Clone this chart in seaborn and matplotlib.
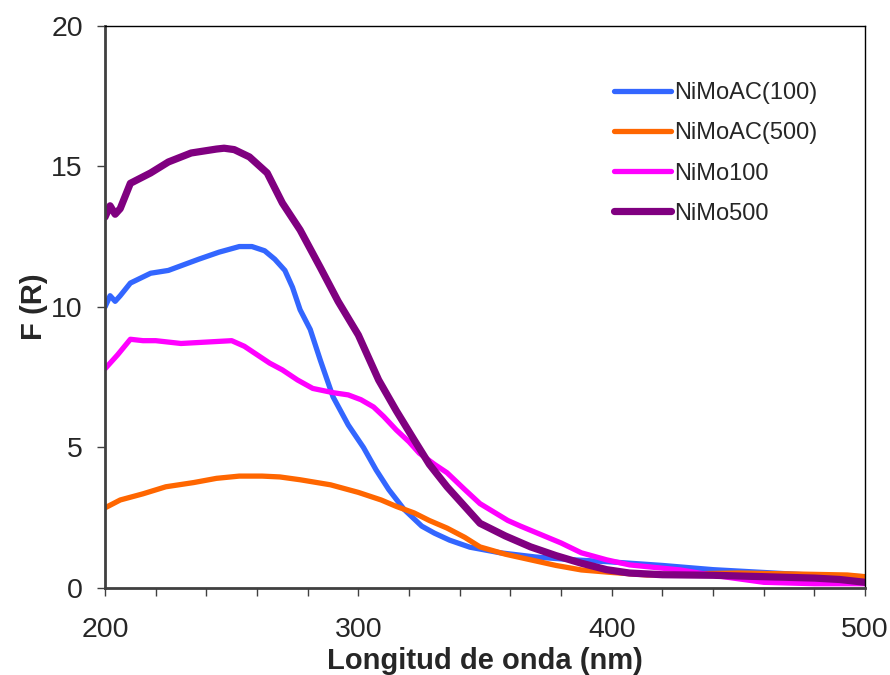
import pandas as pd
import numpy as np
import seaborn as sns
import matplotlib.pyplot as plt
from matplotlib.ticker import MultipleLocator

# datos (longitud de onda en nm, F(R))
nm_ac100 = [200, 202, 204, 206, 210, 218, 225, 237, 245, 253, 258, 263, 267, 271, 274, 277,
            281, 285, 290, 296, 302, 307, 312, 318, 325, 330, 336, 344, 356, 370, 385, 399,
            420, 440, 460, 480, 500]
f_ac100 = [10.0, 10.4, 10.2, 10.4, 10.85, 11.2, 11.3, 11.7, 11.95, 12.15, 12.15, 12.0, 11.7,
           11.3, 10.7, 9.9, 9.2, 8.1, 6.8, 5.8, 5.0, 4.2, 3.5, 2.8, 2.2, 1.95, 1.7, 1.45,
           1.25, 1.1, 1.0, 0.93, 0.8, 0.65, 0.55, 0.45, 0.4]

nm_ac500 = [200, 206, 215, 224, 235, 244, 253, 262, 269, 277, 289, 300, 309, 315, 322, 328,
            335, 342, 348, 358, 368, 378, 388, 400, 414, 430, 450, 470, 493, 500]
f_ac500 = [2.85, 3.13, 3.35, 3.6, 3.75, 3.9, 3.98, 3.98, 3.95, 3.85, 3.67, 3.4, 3.13, 2.9,
           2.67, 2.4, 2.13, 1.8, 1.46, 1.2, 1.0, 0.8, 0.64, 0.55, 0.46, 0.5, 0.53, 0.5,
           0.46, 0.4]

nm_100 = [200, 205, 210, 215, 220, 230, 240, 250, 255, 260, 265, 270, 276, 282, 290, 296,
          301, 306, 310, 315, 320, 324, 330, 335, 342, 348, 359, 364, 372, 380, 388, 398,
          407, 418, 427, 440, 460, 480, 500]
f_100 = [7.8, 8.3, 8.85, 8.8, 8.8, 8.7, 8.75, 8.8, 8.6, 8.3, 8.0, 7.76, 7.4, 7.1, 6.95, 6.87,
         6.7, 6.44, 6.1, 5.62, 5.2, 4.8, 4.4, 4.1, 3.5, 3.0, 2.4, 2.2, 1.9, 1.6, 1.25, 1.0,
         0.82, 0.72, 0.64, 0.45, 0.2, 0.15, 0.15]

nm_500 = [200, 202, 204, 206, 210, 218, 225, 234, 244, 247, 251, 257, 264, 270, 277, 285,
          292, 300, 308, 315, 322, 328, 335, 342, 348, 358, 368, 378, 388, 398, 407, 420,
          440, 460, 480, 490, 500]
f_500 = [13.2, 13.6, 13.3, 13.5, 14.4, 14.77, 15.16, 15.48, 15.62, 15.65, 15.6, 15.34, 14.77,
         13.7, 12.74, 11.4, 10.2, 9.0, 7.4, 6.3, 5.27, 4.4, 3.6, 2.9, 2.3, 1.85, 1.46, 1.15,
         0.88, 0.65, 0.53, 0.47, 0.45, 0.4, 0.35, 0.3, 0.2]

series = ['NiMoAC(100)', 'NiMoAC(500)', 'NiMo100', 'NiMo500']
colores = ['#3366FF', '#FF6600', '#FF00FF', '#800080']
datos = [(nm_ac100, f_ac100), (nm_ac500, f_ac500), (nm_100, f_100), (nm_500, f_500)]
anchos = [3.8, 3.8, 3.8, 5.2]

df = pd.concat([pd.DataFrame({'nm': x, 'F': y, 'muestra': s})
                for (x, y), s in zip(datos, series)], ignore_index=True)

sns.set_style("white")
plt.rcParams['font.family'] = ['Liberation Sans', 'DejaVu Sans']

fig = plt.figure(figsize=(8.9, 6.75), dpi=100)
ax = fig.add_axes([0.118, 0.129, 0.854, 0.8325])

for s, c, lw in zip(series, colores, anchos):
    sns.lineplot(data=df[df['muestra'] == s], x='nm', y='F', color=c, lw=lw,
                 label=s, estimator=None, ax=ax, solid_capstyle='round')

ax.set_xlim(200, 500)
ax.set_ylim(0, 20)
ax.xaxis.set_major_locator(MultipleLocator(100))
ax.xaxis.set_minor_locator(MultipleLocator(20))
ax.yaxis.set_major_locator(MultipleLocator(5))
ax.tick_params(axis='both', which='both', direction='out', length=6, width=1,
               color='#404040', labelsize=20.5, bottom=True, left=True, top=False, right=False)
ax.tick_params(axis='x', pad=15)
ax.tick_params(axis='y', pad=10)

for lado in ['left', 'bottom']:
    ax.spines[lado].set_color('#404040')
    ax.spines[lado].set_linewidth(2)
for lado in ['top', 'right']:
    ax.spines[lado].set_color('black')
    ax.spines[lado].set_linewidth(1)

ax.set_xlabel('Longitud de onda (nm)', fontsize=21, fontweight='bold', labelpad=3)
ax.set_ylabel('F (R)', fontsize=21, fontweight='bold', labelpad=2)

ax.legend(loc='upper left', bbox_to_anchor=(0.669, 0.9), frameon=False, fontsize=17,
          handlelength=2.45, handletextpad=0.13, labelspacing=0.77, borderpad=0,
          borderaxespad=0)

plt.savefig('out.png', dpi=100)
